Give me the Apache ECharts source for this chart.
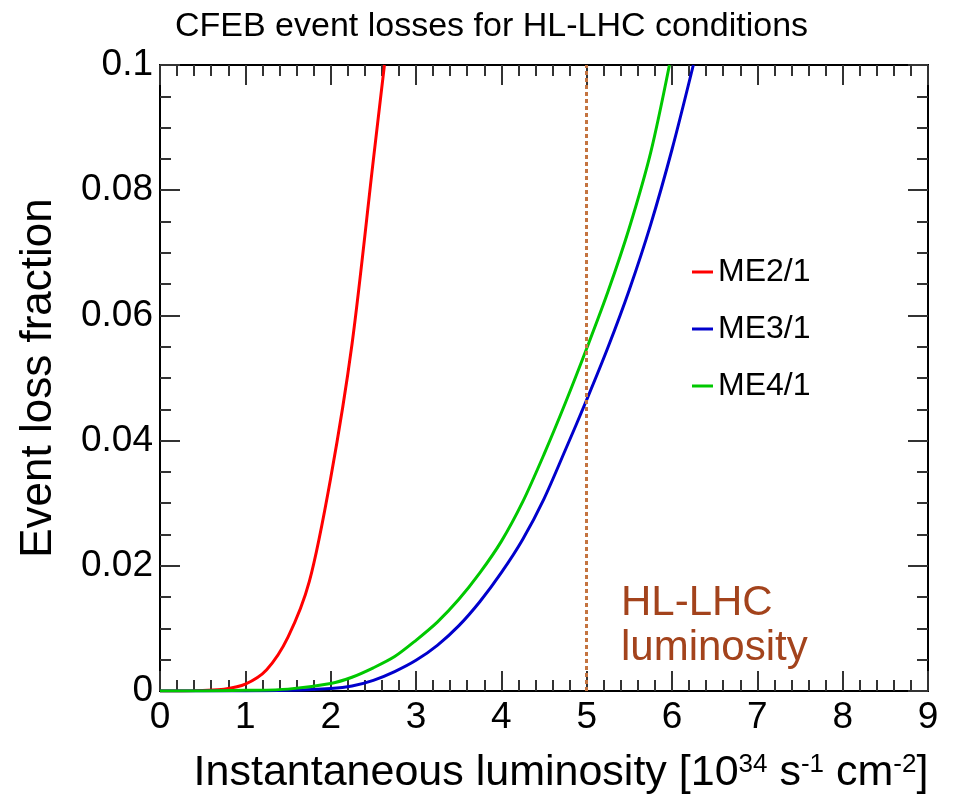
<!DOCTYPE html>
<html>
<head>
<meta charset="utf-8">
<title>CFEB event losses</title>
<script src="https://cdn.jsdelivr.net/npm/echarts@6/dist/echarts.min.js"></script>
<style>
    html, body { margin: 0; padding: 0; background: #fff; }
    #chart { width: 958px; height: 801px; }
</style>
</head>
<body>
<div id="chart"></div>
<script>
// values (luminosity in 10^34, loss fraction)
const me21X = [0, 0.25, 0.5, 0.75, 1.0, 1.25, 1.5, 1.75, 2.0, 2.25, 2.5, 2.63]
const me21Y = [0, 0, 0.0001, 0.0003, 0.0011, 0.0034, 0.0086, 0.0175, 0.034, 0.0554, 0.0848, 0.1]

const me31X = [0, 1.0, 1.5, 2.0, 2.25, 2.5, 2.75, 3.0, 3.25, 3.5, 3.75, 4.0, 4.25, 4.5, 4.75, 5.0, 5.25, 5.5, 5.75, 6.0, 6.25]
const me31Y = [0, 0, 0.0001, 0.0004, 0.0008, 0.0017, 0.0031, 0.0049, 0.0073, 0.0104, 0.0143, 0.0189, 0.0242, 0.0307, 0.0385, 0.0465, 0.0549, 0.0641, 0.0745, 0.0865, 0.1]

const me41X = [0, 0.5, 1.0, 1.5, 2.0, 2.25, 2.5, 2.75, 3.0, 3.25, 3.5, 3.75, 4.0, 4.25, 4.5, 4.75, 5.0, 5.25, 5.5, 5.75, 5.97]
const me41Y = [0, 0, 0.0001, 0.0003, 0.0012, 0.0022, 0.0037, 0.0055, 0.0081, 0.011, 0.0146, 0.0189, 0.0239, 0.0302, 0.0378, 0.046, 0.0547, 0.0638, 0.074, 0.086, 0.1]

const seriesNames = ['ME2/1', 'ME3/1', 'ME4/1']
const hlLhcLumi = 5

// axis ranges: min, max, major step, minor step
const xTicks = [0, 9, 1, 0.2]
const yTicks = [0, 0.1, 0.02, 0.005]

const font = 'Liberation Sans'

function pairs (xs, ys) {
    return xs.map((x, i) => [x, ys[i]])
}

let myChart = echarts.init(document.getElementById('chart'))

// ROOT-like frame: ticks inside on all four sides.
// minor ticks are drawn by a second, label-less axis with a finer interval
function tickAxis (range, step, position, len, extra) {
    return Object.assign({
        type: 'value',
        min: range[0],
        max: range[1],
        interval: step,
        position: position,
        axisLine: { show: true, onZero: false, lineStyle: { color: '#000', width: 2 } },
        axisTick: { show: true, inside: true, length: len, lineStyle: { color: '#333', width: 2 } },
        axisLabel: { show: false },
        splitLine: { show: false }
    }, extra)
}

let option = {
    backgroundColor: '#fff',
    animation: false,
    title: {
        text: 'CFEB event losses for HL-LHC conditions',
        left: 170,
        top: 5,
        textStyle: { fontFamily: font, fontWeight: 'normal', fontSize: 34, color: '#000' }
    },
    legend: {
        orient: 'vertical',
        left: 687,
        top: 251,
        itemWidth: 21,
        itemHeight: 3,
        itemGap: 25,
        icon: 'rect',
        data: seriesNames,
        textStyle: { fontFamily: font, fontSize: 32, lineHeight: 32, color: '#000' }
    },
    grid: { left: 160, right: 30, top: 65, bottom: 110 },
    xAxis: [
        tickAxis(xTicks, xTicks[2], 'bottom', 20, {
            axisLabel: { show: true, fontFamily: font, fontSize: 37, color: '#000', margin: 8 },
            name: 'Instantaneous luminosity [10{sup|34} s{sup|-1} cm{sup|-2}]',
            nameLocation: 'middle',
            nameGap: 61,
            nameTextStyle: {
                fontFamily: font, fontSize: 43, color: '#000',
                padding: [0, 0, 0, 34],
                rich: { sup: { fontFamily: font, fontSize: 26, verticalAlign: 'top', color: '#000' } }
            }
        }),
        tickAxis(xTicks, xTicks[3], 'bottom', 11),
        tickAxis(xTicks, xTicks[2], 'top', 20),
        tickAxis(xTicks, xTicks[3], 'top', 11)
    ],
    yAxis: [
        tickAxis(yTicks, yTicks[2], 'left', 20, {
            axisLabel: { show: true, fontFamily: font, fontSize: 37, color: '#000', margin: 7 },
            name: 'Event loss fraction',
            nameLocation: 'middle',
            nameRotate: 90,
            nameGap: 99,
            nameTextStyle: { fontFamily: font, fontSize: 44, color: '#000' }
        }),
        tickAxis(yTicks, yTicks[3], 'left', 11),
        tickAxis(yTicks, yTicks[2], 'right', 20),
        tickAxis(yTicks, yTicks[3], 'right', 11)
    ],
    series: [
        {
            name: seriesNames[0],
            type: 'line',
            data: pairs(me21X, me21Y),
            showSymbol: false,
            smooth: 0.3,
            lineStyle: { width: 3, color: '#ff0000' },
            itemStyle: { color: '#ff0000' }
        },
        {
            name: seriesNames[1],
            type: 'line',
            data: pairs(me31X, me31Y),
            showSymbol: false,
            smooth: 0.3,
            lineStyle: { width: 3, color: '#0000cc' },
            itemStyle: { color: '#0000cc' }
        },
        {
            name: seriesNames[2],
            type: 'line',
            data: pairs(me41X, me41Y),
            showSymbol: false,
            smooth: 0.3,
            lineStyle: { width: 3, color: '#00c800' },
            itemStyle: { color: '#00c800' },
            // HL-LHC luminosity marker
            markLine: {
                silent: true,
                symbol: ['none', 'none'],
                label: { show: false },
                lineStyle: { type: [4, 3], width: 3, color: '#c47440' },
                data: [{ xAxis: hlLhcLumi }]
            }
        }
    ],
    graphic: [
        {
            type: 'text',
            left: 621,
            top: 581,
            style: {
                text: 'HL-LHC\nluminosity',
                fontFamily: font,
                fontSize: 42,
                lineHeight: 45,
                fill: '#a3431c'
            }
        }
    ]
}

myChart.setOption(option, true)
</script>
</body>
</html>
